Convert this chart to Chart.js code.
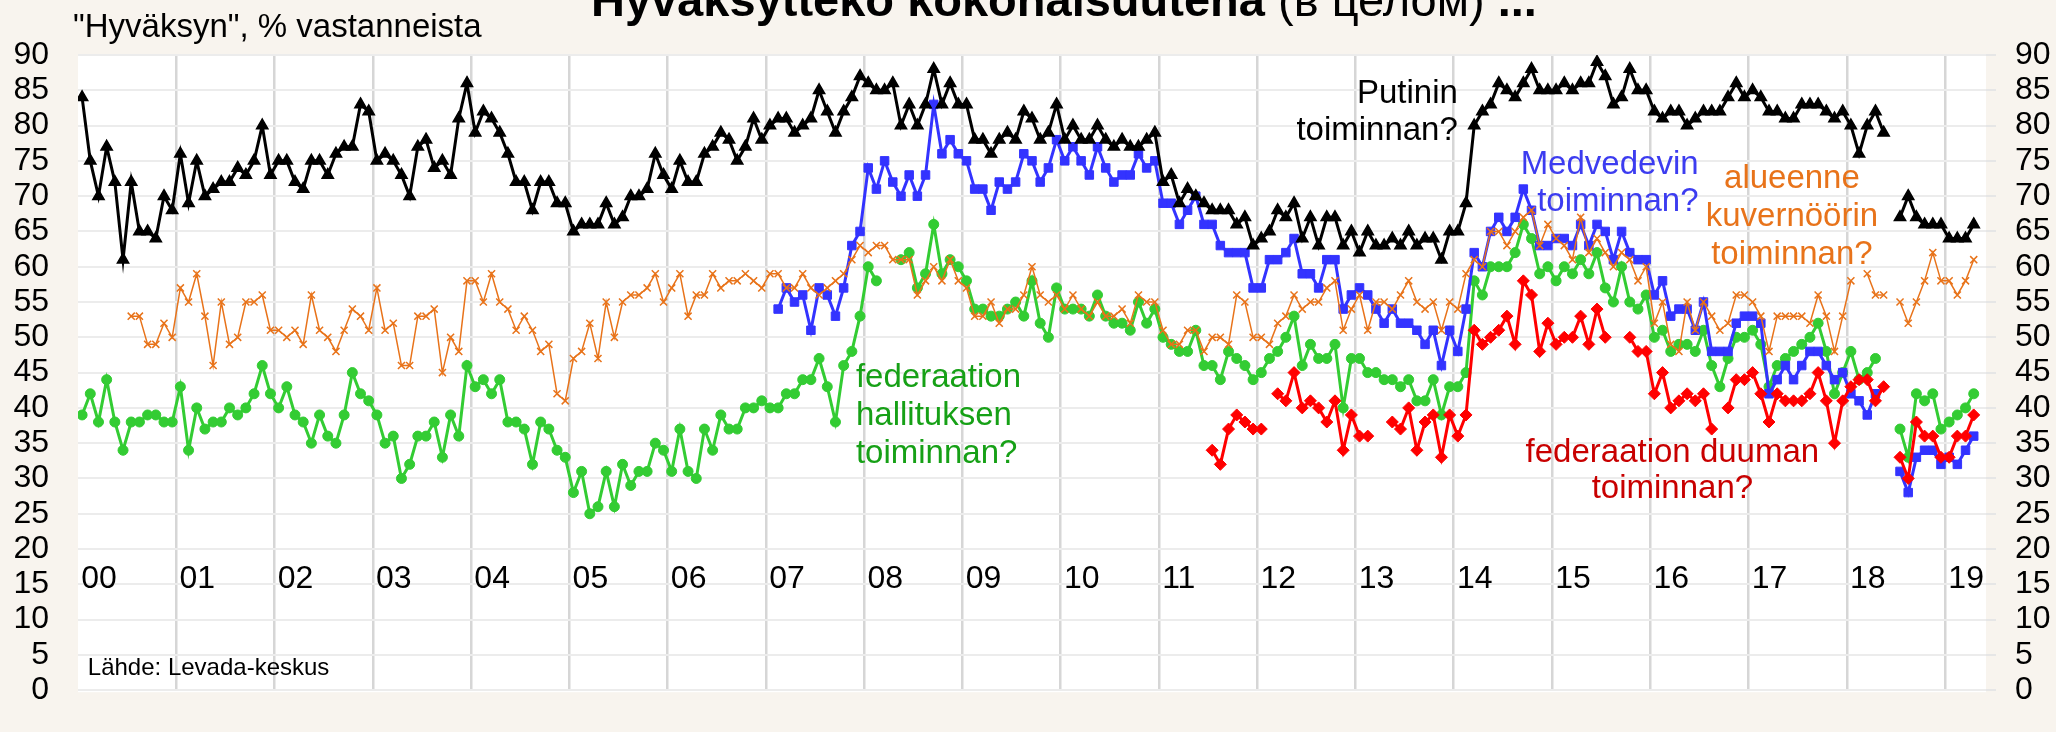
<!DOCTYPE html>
<html>
<head>
<meta charset="utf-8">
<script src="https://cdn.jsdelivr.net/npm/chart.js@4/dist/chart.umd.min.js"></script>
<style>
  html, body { margin: 0; padding: 0; background: #f8f4ee; }
  canvas { display: block; }
</style>
</head>
<body>
<canvas id="chart" width="2056" height="732"></canvas>
<script>
// Levada: "Hyväksyttekö kokonaisuutena ..." monthly, Jan 2000 -> Apr 2019
// index 0 = Jan 2000, null = no survey that month

const yearLabels = ['00','01','02','03','04','05','06','07','08','09','10','11','12','13','14','15','16','17','18','19'];

const putin = [
  84,75,70,77,72,61,72,65,65,64,70,68,
  76,69,75,70,71,72,72,74,73,75,80,73,
  75,75,72,71,75,75,73,76,77,77,83,82,
  75,76,75,73,70,77,78,74,75,73,81,86,
  79,82,81,79,76,72,72,68,72,72,69,69,
  65,66,66,66,69,66,67,70,70,71,76,73,
  71,75,72,72,76,77,79,78,75,77,81,78,
  80,81,81,79,80,81,85,82,79,82,84,87,
  86,85,85,86,80,83,80,83,88,83,86,83,
  83,78,78,76,78,79,78,82,81,78,79,83,
  78,80,78,78,80,78,77,78,77,77,78,79,
  72,73,69,71,70,69,68,68,68,66,67,63,
  64,65,68,67,69,64,67,63,67,67,63,65,
  62,65,63,63,64,63,65,63,64,64,61,65,
  65,69,80,82,83,86,85,84,86,88,85,85,
  85,86,85,86,86,89,87,83,84,88,85,85,
  82,81,82,82,80,81,82,82,82,84,86,84,
  85,84,82,82,81,81,83,83,83,82,81,82,
  80,76,80,82,79,null,67,70,67,66,66,66,
  64,64,64,66
];

const medvedev = [
  null,null,null,null,null,null,null,null,null,null,null,null,
  null,null,null,null,null,null,null,null,null,null,null,null,
  null,null,null,null,null,null,null,null,null,null,null,null,
  null,null,null,null,null,null,null,null,null,null,null,null,
  null,null,null,null,null,null,null,null,null,null,null,null,
  null,null,null,null,null,null,null,null,null,null,null,null,
  null,null,null,null,null,null,null,null,null,null,null,null,
  null,54,57,55,56,51,57,56,53,57,63,65,
  74,71,75,72,70,73,70,73,83,76,78,76,
  75,71,71,68,72,71,72,76,75,72,74,78,
  75,77,75,73,77,74,72,73,73,76,74,75,
  69,69,66,68,70,66,66,63,62,62,62,57,
  57,61,61,62,64,59,59,57,61,61,54,56,
  57,56,54,52,54,52,52,51,49,51,46,51,
  48,54,62,60,65,67,65,67,71,68,63,63,
  64,64,63,66,63,66,65,61,65,62,61,61,
  56,58,53,54,54,51,55,48,48,48,52,53,
  53,52,42,44,46,44,46,48,48,46,44,45,
  42,41,39,42,null,null,31,28,33,34,34,32,
  33,32,34,36
];

const governors = [
  null,null,null,null,null,null,53,53,49,49,52,50,
  57,55,59,53,46,55,49,50,55,55,56,51,
  51,50,51,49,56,51,50,48,51,54,53,51,
  57,51,52,46,46,53,53,54,45,50,48,58,
  58,55,59,55,54,51,53,51,48,49,42,41,
  47,48,52,47,55,50,55,56,56,57,59,55,
  57,59,53,56,56,59,57,58,58,59,58,57,
  59,59,57,57,59,57,56,57,58,59,61,63,
  62,63,63,61,61,61,56,58,60,58,61,58,
  57,53,53,55,52,54,54,56,60,56,55,56,
  54,56,54,53,55,53,53,54,52,56,55,55,
  51,49,49,51,51,48,50,50,49,56,55,50,
  50,49,52,53,56,54,55,55,57,58,51,54,
  56,51,55,55,54,56,58,55,54,55,51,55,
  54,59,61,60,65,65,63,65,67,68,63,66,
  64,63,61,67,62,64,62,60,62,61,58,60,
  52,55,49,48,55,51,55,53,51,52,56,56,
  55,53,48,53,53,53,53,52,56,53,48,53,
  58,null,59,56,56,null,55,52,55,58,62,58,
  58,56,58,61
];

const government = [
  39,42,38,44,38,34,38,38,39,39,38,38,
  43,34,40,37,38,38,40,39,40,42,46,42,
  40,43,39,38,35,39,36,35,39,45,42,41,
  39,35,36,30,32,36,36,38,33,39,36,46,
  43,44,42,44,38,38,37,32,38,37,34,33,
  28,31,25,26,31,26,32,29,31,31,35,34,
  31,37,31,30,37,34,39,37,37,40,40,41,
  40,40,42,42,44,44,47,43,38,46,48,53,
  60,58,null,null,61,62,57,59,66,59,61,60,
  58,54,54,53,53,54,55,53,58,52,50,57,
  54,54,54,53,56,53,52,52,51,55,52,54,
  50,49,48,48,51,46,46,44,48,47,46,44,
  45,47,48,50,53,46,49,47,47,49,40,47,
  47,45,45,44,44,43,44,41,41,44,39,43,
  43,45,58,56,60,60,60,62,66,64,59,60,
  58,60,59,61,59,62,57,55,60,55,54,56,
  50,51,48,49,49,48,51,46,43,47,50,50,
  51,49,43,46,47,48,49,50,52,48,42,45,
  48,44,45,47,null,null,37,33,42,41,42,37,
  38,39,40,42
];

const duma = [
  null,null,null,null,null,null,null,null,null,null,null,null,
  null,null,null,null,null,null,null,null,null,null,null,null,
  null,null,null,null,null,null,null,null,null,null,null,null,
  null,null,null,null,null,null,null,null,null,null,null,null,
  null,null,null,null,null,null,null,null,null,null,null,null,
  null,null,null,null,null,null,null,null,null,null,null,null,
  null,null,null,null,null,null,null,null,null,null,null,null,
  null,null,null,null,null,null,null,null,null,null,null,null,
  null,null,null,null,null,null,null,null,null,null,null,null,
  null,null,null,null,null,null,null,null,null,null,null,null,
  null,null,null,null,null,null,null,null,null,null,null,null,
  null,null,null,null,null,null,34,32,37,39,38,37,
  37,null,42,41,45,40,41,40,38,41,34,39,
  36,36,null,null,38,37,40,34,38,39,33,39,
  36,39,51,49,50,51,53,49,58,56,48,52,
  49,50,50,53,49,54,50,null,null,50,48,48,
  42,45,40,41,42,41,42,37,null,40,44,44,
  45,42,38,42,41,41,41,42,45,41,35,41,
  43,44,44,41,43,null,33,30,38,36,36,33,
  33,36,36,39
];

const FONT = "'Liberation Sans', Arial, sans-serif";

// month index -> point in the middle of the month
function toPoints(arr) {
  return arr.map((v, i) => ({ x: i + 0.5, y: v }));
}

// text labels next to the lines, anchored in data units (month, %)
const notes = [
  { lines: ['Putinin', 'toiminnan?'], x: 168.5, y: 83.2, align: 'right', color: '#000000', gap: 37 },
  { lines: ['Medvedevin', 'toiminnan?'], x: 197.9, y: 73.2, align: 'right', color: '#3c3cf0', gap: 37 },
  { lines: ['alueenne', 'kuvernöörin', 'toiminnan?'], x: 209.3, y: 71.2, align: 'center', color: '#e8731a', gap: 38 },
  { lines: ['federaation', 'hallituksen', 'toiminnan?'], x: 95.0, y: 43.0, align: 'left', color: '#16a016', gap: 38 },
  { lines: ['federaation duuman', 'toiminnan?'], x: 194.7, y: 32.3, align: 'center', color: '#c80000', gap: 36 }
];

const decorPlugin = {
  id: 'decor',
  beforeDraw(chart) {
    const c = chart.ctx;
    const a = chart.chartArea;
    c.save();
    c.fillStyle = '#f8f4ee';
    c.fillRect(0, 0, chart.width, chart.height);
    c.fillStyle = '#ffffff';
    c.fillRect(a.left, a.top, a.right - a.left, a.bottom - a.top + 2);
    c.restore();
  },
  afterDraw(chart) {
    const c = chart.ctx;
    const xs = chart.scales.x;
    const ys = chart.scales.y;
    c.save();

    // title, cut at the top edge like in the original
    let tx = 591;
    const ty = 16;
    c.textBaseline = 'alphabetic';
    c.textAlign = 'left';
    c.fillStyle = '#000';
    c.font = 'bold 47px ' + FONT;
    c.fillText('Hyväksyttekö kokonaisuutena', tx, ty);
    tx += c.measureText('Hyväksyttekö kokonaisuutena').width;
    c.font = '47px ' + FONT;
    c.fillText(' (в целом) ', tx, ty);
    tx += c.measureText(' (в целом) ').width;
    c.font = 'bold 47px ' + FONT;
    c.fillText('...', tx, ty);

    // unit text top left
    c.font = '33px ' + FONT;
    c.fillText('"Hyväksyn", % vastanneista', 73, 37);

    // year labels inside the plot
    c.font = '32px ' + FONT;
    c.textBaseline = 'middle';
    yearLabels.forEach((lab, i) => {
      c.fillText(lab, xs.getPixelForValue(i * 12 + 0.4), ys.getPixelForValue(15.8));
    });

    // source
    c.textBaseline = 'alphabetic';
    c.font = '24px ' + FONT;
    c.fillText('Lähde: Levada-keskus', xs.getPixelForValue(1.2), ys.getPixelForValue(2.2));

    // series labels
    c.font = '33px ' + FONT;
    notes.forEach(n => {
      c.fillStyle = n.color;
      c.textAlign = n.align;
      const px = xs.getPixelForValue(n.x);
      const py = ys.getPixelForValue(n.y);
      n.lines.forEach((t, k) => c.fillText(t, px, py + k * n.gap));
    });
    c.restore();
  }
};

new Chart(document.getElementById('chart'), {
  type: 'line',
  data: {
    datasets: [
      {
        label: 'Putinin toiminnan?', data: toPoints(putin), order: 0,
        borderColor: '#000000', backgroundColor: '#000000', borderWidth: 3,
        pointStyle: 'triangle', pointRadius: 6.5, pointBorderWidth: 1.5
      },
      {
        label: 'alueenne kuvernöörin toiminnan?', data: toPoints(governors), order: 1,
        borderColor: '#e8731a', backgroundColor: '#e8731a', borderWidth: 1.5,
        pointStyle: 'crossRot', pointRadius: 5, pointBorderWidth: 1.5
      },
      {
        label: 'federaation duuman toiminnan?', data: toPoints(duma), order: 2,
        borderColor: '#ff0000', backgroundColor: '#ff0000', borderWidth: 3,
        pointStyle: 'rectRot', pointRadius: 6, pointBorderWidth: 1
      },
      {
        label: 'Medvedevin toiminnan?', data: toPoints(medvedev), order: 3,
        borderColor: '#3333ff', backgroundColor: '#3333ff', borderWidth: 3,
        pointStyle: 'rect', pointRadius: 6, pointBorderWidth: 1
      },
      {
        label: 'federaation hallituksen toiminnan?', data: toPoints(government), order: 4,
        borderColor: '#33cc33', backgroundColor: '#33cc33', borderWidth: 3,
        pointStyle: 'circle', pointRadius: 5, pointBorderWidth: 1
      }
    ]
  },
  options: {
    responsive: false,
    animation: false,
    devicePixelRatio: 1,
    events: [],
    layout: { padding: { top: 55, left: 0, right: 0, bottom: 0 } },
    elements: { line: { tension: 0 } },
    plugins: { legend: { display: false }, tooltip: { enabled: false } },
    scales: {
      x: {
        type: 'linear', min: 0, max: 233,
        afterBuildTicks: s => { s.ticks = yearLabels.slice(1).map((_, i) => ({ value: (i + 1) * 12 })); },
        afterFit: s => { s.height = 13; },
        ticks: { display: false },
        border: { display: false },
        grid: { color: '#d6d6d6', lineWidth: 2.5, drawTicks: false }
      },
      y: {
        position: 'left', min: 0, max: 90,
        afterFit: s => { s.width = 78; },
        ticks: { stepSize: 5, autoSkip: false, padding: 29, color: '#000', font: { family: FONT, size: 32, lineHeight: 0.8 } },
        border: { display: false },
        grid: { color: '#ececec', lineWidth: 2, drawTicks: false }
      },
      y2: {
        position: 'right', min: 0, max: 90,
        afterFit: s => { s.width = 70; },
        ticks: { stepSize: 5, autoSkip: false, padding: 19, color: '#000', font: { family: FONT, size: 32, lineHeight: 0.8 } },
        border: { display: false },
        grid: { drawOnChartArea: false, tickLength: 10, color: '#e6e6e6', lineWidth: 2 }
      }
    }
  },
  plugins: [decorPlugin]
});
</script>
</body>
</html>
